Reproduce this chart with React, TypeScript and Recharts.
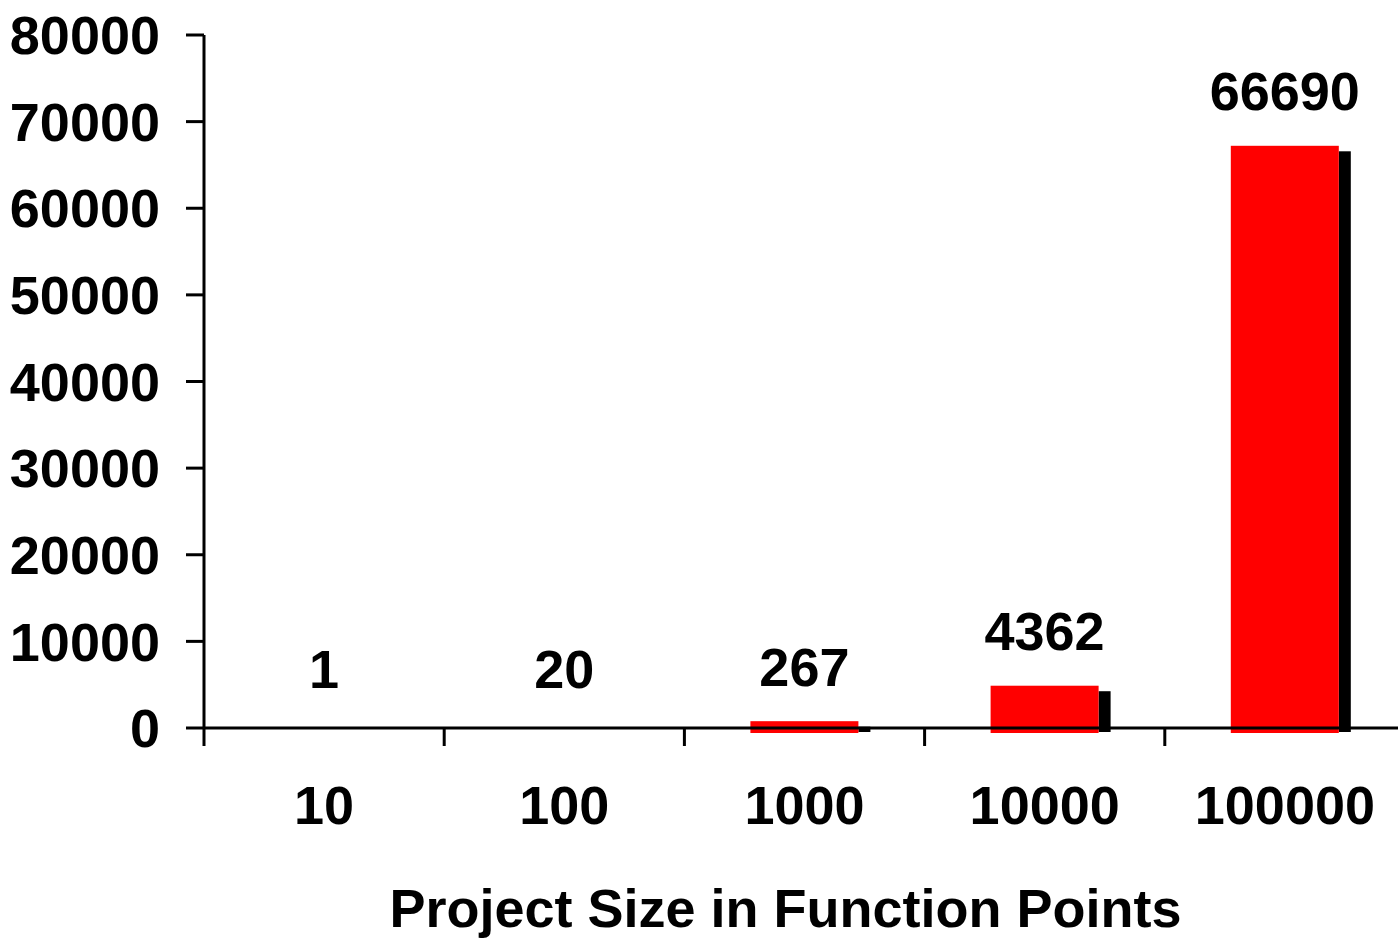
import { Bar, BarChart, LabelList, ReferenceLine, XAxis, YAxis } from "recharts";

const projectSizes = ["10", "100", "1000", "10000", "100000"];
const effortValues = [1, 20, 267, 4362, 66690];
const yTicks = [0, 10000, 20000, 30000, 40000, 50000, 60000, 70000, 80000];
const edgeTicks = [0, 1, 2, 3, 4];

const data = projectSizes.map((size, i) => ({ size, value: effortValues[i], edge: i + 0.5 }));

const FONT = '"Liberation Sans", Arial, Helvetica, sans-serif';

function ShadowBar(props: any) {
  const { x, y, width, height } = props;
  if (!(height >= 1)) {
    return null;
  }
  const base = y + height;
  return (
    <g>
      <rect x={x + width} y={y + 1} width={12} height={base + 4 - (y + 1)} fill="#000000" />
      <rect x={x} y={y - 4.5} width={width} height={base + 5 - (y - 4.5)} fill="#ff0000" />
    </g>
  );
}

function ValueLabel(props: any) {
  const { x, y, width, value } = props;
  return (
    <text
      x={x + width / 2}
      y={y - 60 + 20}
      textAnchor="middle"
      fontFamily={FONT}
      fontWeight="bold"
      fontSize={54}
      fill="#000"
    >
      {value}
    </text>
  );
}

function AxisTitle(props: any) {
  const { viewBox } = props;
  return (
    <text
      x={viewBox.x + viewBox.width / 2 - 19}
      y={viewBox.y + 199}
      textAnchor="middle"
      fontFamily={FONT}
      fontWeight="bold"
      fontSize={54}
      fill="#000"
    >
      Project Size in Function Points
    </text>
  );
}

export default function App() {
  const tickStyle = { fontFamily: FONT, fontWeight: "bold", fontSize: 54, fill: "#000" };
  return (
    <div
      style={{
        position: "absolute",
        left: 0,
        top: 0,
        width: 1398,
        height: 941,
        overflow: "hidden",
        background: "#fff"
      }}
    >
      <BarChart
        width={1405}
        height={941}
        data={data}
        margin={{ top: 35, right: 0, left: 0, bottom: 0 }}
        barSize={108}
      >
        <XAxis
          dataKey="size"
          height={1}
          axisLine={false}
          tickLine={false}
          tickSize={0}
          tickMargin={58}
          tick={tickStyle}
          interval={0}
          label={<AxisTitle />}
        />
        <XAxis
          xAxisId="edges"
          type="number"
          dataKey="edge"
          domain={[0, 5]}
          ticks={edgeTicks}
          height={212}
          axisLine={false}
          tickLine={{ stroke: "#000", strokeWidth: 3 }}
          tickSize={17}
          tickFormatter={() => ""}
        />
        <YAxis
          width={204}
          domain={[0, 80000]}
          ticks={yTicks}
          interval={0}
          axisLine={{ stroke: "#000", strokeWidth: 3 }}
          tickLine={{ stroke: "#000", strokeWidth: 3 }}
          tickSize={18}
          tickMargin={26}
          tick={tickStyle}
        />
        <Bar dataKey="value" shape={<ShadowBar />} isAnimationActive={false}>
          <LabelList dataKey="value" content={<ValueLabel />} />
        </Bar>
        <ReferenceLine y={0} stroke="#000" strokeWidth={3} />
      </BarChart>
    </div>
  );
}
